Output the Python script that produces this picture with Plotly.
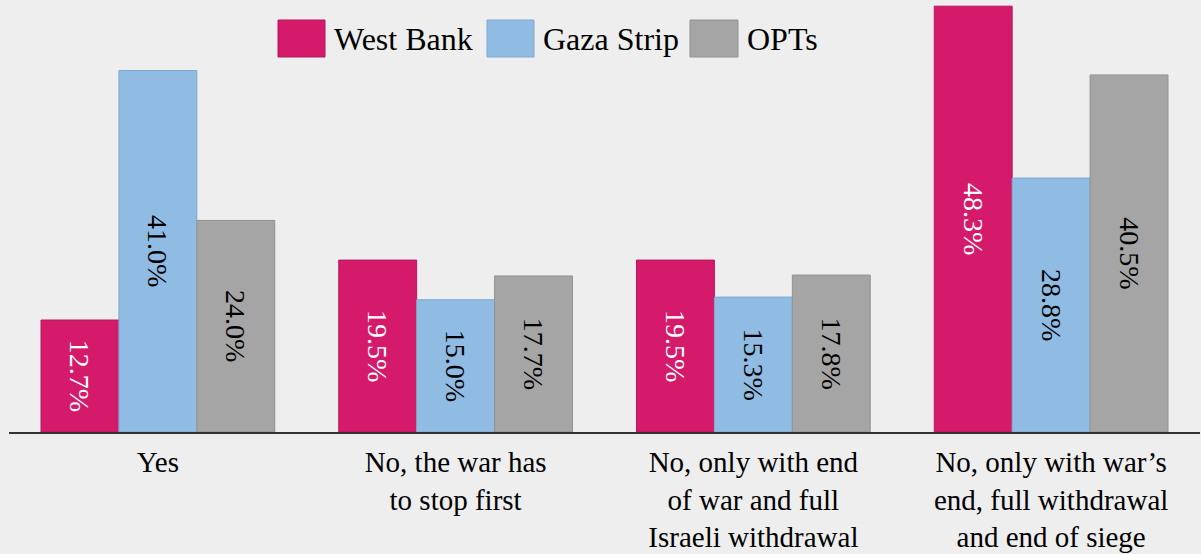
import plotly.graph_objects as go

categories = ["Yes", "No, the war has<br>to stop first",
              "No, only with end<br>of war and full<br>Israeli withdrawal",
              "No, only with war’s<br>end, full withdrawal<br>and end of siege"]
series_names = ["West Bank", "Gaza Strip", "OPTs"]
west_bank = [12.7, 19.5, 19.5, 48.3]
gaza_strip = [41.0, 15.0, 15.3, 28.8]
opts = [24.0, 17.7, 17.8, 40.5]

colors = ["#d5196b", "#90bbe2", "#a5a5a5"]
edge = ["#b8175e", "#7fa9cf", "#929292"]
text_colors = ["white", "black", "black"]
FONT = "Liberation Serif"

W, H = 1201, 554
ML, MR, MT, MB = 9, 1, 0, 122
pw, ph = W - ML - MR, H - MT - MB

fig = go.Figure()
for name, vals, c, e, tc in zip(series_names, [west_bank, gaza_strip, opts], colors, edge, text_colors):
    fig.add_trace(go.Bar(
        x=categories, y=vals, name=name,
        marker=dict(color=c, line=dict(color=e, width=1)),
        texttemplate="%{y:.1f}%", textposition="inside", insidetextanchor="middle",
        textangle=90, constraintext="none",
        textfont=dict(family=FONT, size=28, color=tc),
        showlegend=False,
    ))

def px(x):
    return (x - ML) / pw

def py(y):
    return (H - MB - y) / ph

# custom legend (large swatches)
legend_items = [(278, 325, 332), (487, 534, 541), (690, 738, 745)]
shapes = []
annotations = []
for (x0, x1, tx), name, c, e in zip(legend_items, series_names, colors, edge):
    shapes.append(dict(type="rect", xref="paper", yref="paper",
                       x0=px(x0), x1=px(x1), y0=py(57), y1=py(20),
                       fillcolor=c, line=dict(color=e, width=1)))
    annotations.append(dict(xref="paper", yref="paper", x=px(tx), y=py(39),
                            xanchor="left", yanchor="middle", text=name, showarrow=False,
                            font=dict(family=FONT, size=32, color="black")))

fig.update_layout(
    width=W, height=H,
    margin=dict(l=ML, r=MR, t=MT, b=MB),
    paper_bgcolor="#eeeeee", plot_bgcolor="#eeeeee",
    barmode="group", bargap=0.215, bargroupgap=0,
    font=dict(family=FONT, color="black"),
    xaxis=dict(showline=True, linecolor="#333333", linewidth=2, ticks="",
               ticklabelstandoff=3,
               tickfont=dict(family=FONT, size=29, color="black"), showgrid=False),
    yaxis=dict(range=[0, 49], visible=False, showgrid=False, zeroline=False),
    shapes=shapes, annotations=annotations,
)

fig.write_html("out.html", config={"displayModeBar": False},
               post_script="document.body.style.margin='0';document.body.style.background='#eeeeee';")
